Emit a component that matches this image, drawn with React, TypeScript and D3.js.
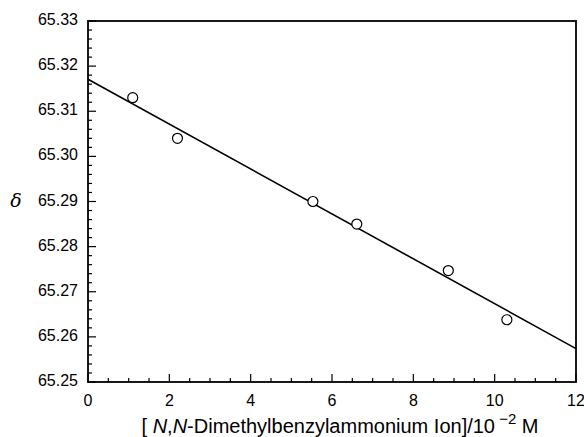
import React, { useEffect, useRef } from "react";
import * as d3 from "d3";

// measured points (concentration in 10^-2 M, chemical shift)
const concentration = [1.1, 2.2, 5.53, 6.61, 8.86, 10.3];
const shift = [65.313, 65.304, 65.29, 65.285, 65.2747, 65.2638];
// least squares line end points
const fitX = [0, 12];
const fitY = [65.3171, 65.2574];

const xTicks = [0, 2, 4, 6, 8, 10, 12];
const yTicks = [65.25, 65.26, 65.27, 65.28, 65.29, 65.3, 65.31, 65.32, 65.33];

const W = 584;
const H = 437;
const margin = { left: 88, right: 8, top: 21, bottom: 55 };

const App = () => {
  const ref = useRef<SVGSVGElement>(null);

  useEffect(() => {
    document.body.style.margin = "0";
    draw();
  }, []);

  const draw = () => {
    const svg = d3.select(ref.current);
    svg.selectAll("*").remove();

    const x = d3.scaleLinear().domain([0, 12]).range([margin.left, W - margin.right]);
    const y = d3.scaleLinear().domain([65.25, 65.33]).range([H - margin.bottom, margin.top]);
    const font = "'Liberation Sans', Arial, sans-serif";

    // frame
    svg
      .append("rect")
      .attr("x", x(0))
      .attr("y", y(65.33))
      .attr("width", x(12) - x(0))
      .attr("height", y(65.25) - y(65.33))
      .attr("fill", "none")
      .attr("stroke", "#000")
      .attr("stroke-width", 1.8);

    // x ticks (inward)
    const xMinor = d3.range(0, 12.01, 0.5);
    svg
      .append("g")
      .selectAll("line")
      .data(xMinor)
      .enter()
      .append("line")
      .attr("x1", (d) => x(d))
      .attr("x2", (d) => x(d))
      .attr("y1", y(65.25))
      .attr("y2", (d) => y(65.25) - (Math.abs(d % 2) < 1e-6 ? 8 : 4))
      .attr("stroke", "#000")
      .attr("stroke-width", 1.2);

    svg
      .append("g")
      .selectAll("text")
      .data(xTicks)
      .enter()
      .append("text")
      .attr("x", (d) => x(d))
      .attr("y", y(65.25) + 24)
      .attr("text-anchor", "middle")
      .attr("font-family", font)
      .attr("font-size", 16)
      .text((d) => d);

    // y ticks (inward)
    const yMinor = d3.range(0, 41).map((i) => 65.25 + i * 0.002);
    svg
      .append("g")
      .selectAll("line")
      .data(yMinor)
      .enter()
      .append("line")
      .attr("x1", x(0))
      .attr("x2", (d, i) => x(0) + (i % 5 === 0 ? 8 : 4))
      .attr("y1", (d) => y(d))
      .attr("y2", (d) => y(d))
      .attr("stroke", "#000")
      .attr("stroke-width", 1.2);

    svg
      .append("g")
      .selectAll("text")
      .data(yTicks)
      .enter()
      .append("text")
      .attr("x", x(0) - 10)
      .attr("y", (d) => y(d) + 4)
      .attr("text-anchor", "end")
      .attr("font-family", font)
      .attr("font-size", 16)
      .text((d) => d.toFixed(2));

    // fitted line
    const line = d3
      .line<number>()
      .x((d) => x(d))
      .y((d, i) => y(fitY[i]));
    svg
      .append("path")
      .attr("d", line(fitX))
      .attr("fill", "none")
      .attr("stroke", "#000")
      .attr("stroke-width", 1.6);

    // points
    svg
      .append("g")
      .selectAll("circle")
      .data(concentration)
      .enter()
      .append("circle")
      .attr("cx", (d) => x(d))
      .attr("cy", (d, i) => y(shift[i]))
      .attr("r", 5)
      .attr("fill", "#fff")
      .attr("stroke", "#000")
      .attr("stroke-width", 1.2);

    // y label
    svg
      .append("text")
      .attr("x", 16)
      .attr("y", 207)
      .attr("text-anchor", "middle")
      .attr("font-family", "'DejaVu Serif', serif")
      .attr("font-style", "italic")
      .attr("font-size", 19)
      .text("δ");

    // x label
    const t = svg
      .append("text")
      .attr("x", 340)
      .attr("y", 433)
      .attr("text-anchor", "middle")
      .attr("font-family", font)
      .attr("font-size", 20);
    t.append("tspan").text("[ ");
    t.append("tspan").attr("font-style", "italic").text("N");
    t.append("tspan").text(",");
    t.append("tspan").attr("font-style", "italic").text("N");
    t.append("tspan").text("-Dimethylbenzylammonium Ion]/10");
    t.append("tspan").attr("dy", -9).attr("font-size", 15).text(" −2");
    t.append("tspan").attr("dy", 9).text("  M");
  };

  return <svg ref={ref} width={W} height={H} style={{ display: "block" }}></svg>;
};

export default App;
